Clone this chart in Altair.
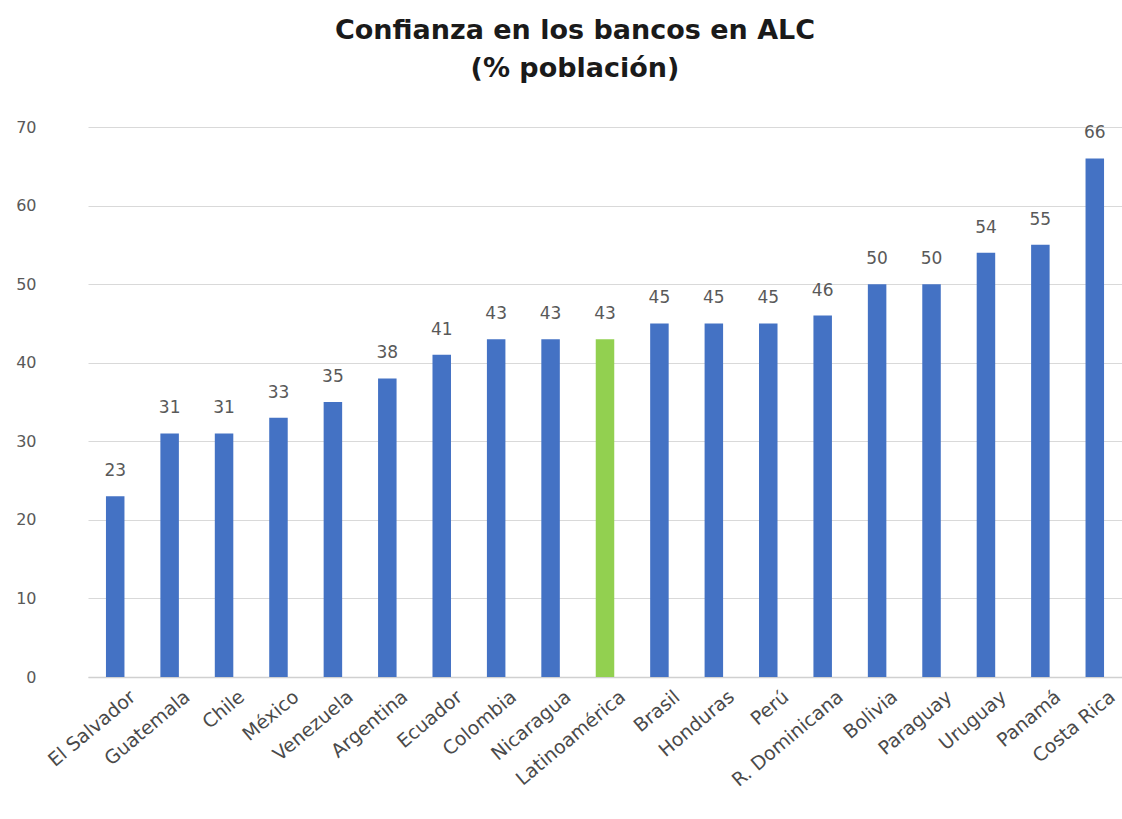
import altair as alt
import pandas as pd

countries = ["El Salvador", "Guatemala", "Chile", "México", "Venezuela", "Argentina",
             "Ecuador", "Colombia", "Nicaragua", "Latinoamérica", "Brasil", "Honduras",
             "Perú", "R. Dominicana", "Bolivia", "Paraguay", "Uruguay", "Panamá", "Costa Rica"]
values = [23, 31, 31, 33, 35, 38, 41, 43, 43, 43, 45, 45, 45, 46, 50, 50, 54, 55, 66]
highlight = ["no"] * 9 + ["yes"] + ["no"] * 9

df = pd.DataFrame({"pais": countries, "valor": values, "grupo": highlight})

x = alt.X("pais:N", sort=countries, title=None,
          scale=alt.Scale(paddingInner=0.66, paddingOuter=0.33),
          axis=alt.Axis(labelAngle=-40, labelAlign="right", labelBaseline="top",
                        labelFontSize=19, labelColor="#4a4a4a", labelFont="DejaVu Sans",
                        ticks=False, domain=True, domainColor="#d0d0d0", domainWidth=1.5,
                        grid=False, labelPadding=10, labelOffset=12))
y = alt.Y("valor:Q", title=None,
          scale=alt.Scale(domain=[0, 70], nice=False),
          axis=alt.Axis(values=[0, 10, 20, 30, 40, 50, 60, 70], labelFontSize=16,
                        labelColor="#595959", labelFont="DejaVu Sans", domain=False,
                        ticks=False, gridColor="#d9d9d9", gridWidth=1.2, labelPadding=52))

bars = alt.Chart(df).mark_bar().encode(
    x=x, y=y,
    color=alt.Color("grupo:N", scale=alt.Scale(domain=["no", "yes"],
                                               range=["#4472C4", "#92D050"]), legend=None),
)
text = alt.Chart(df).mark_text(dy=-25, fontSize=17, color="#595959", font="DejaVu Sans").encode(
    x=x, y=y, text="valor:Q")

chart = (bars + text).properties(
    width=1034, height=550,
    title=alt.TitleParams(["Confianza  en los bancos en ALC", "(% población)"],
                          fontSize=27, font="DejaVu Sans", fontWeight="bold", color="#1a1a1a",
                          anchor="middle", dx=-30, offset=36, lineHeight=38),
    autosize=alt.AutoSizeParams(type="none"),
    padding={"left": 88, "top": 127, "right": 0, "bottom": 142},
).configure(background="white").configure_view(strokeWidth=0, stroke="transparent")

chart.save("out.html", embed_options={"renderer": "svg", "actions": False})
